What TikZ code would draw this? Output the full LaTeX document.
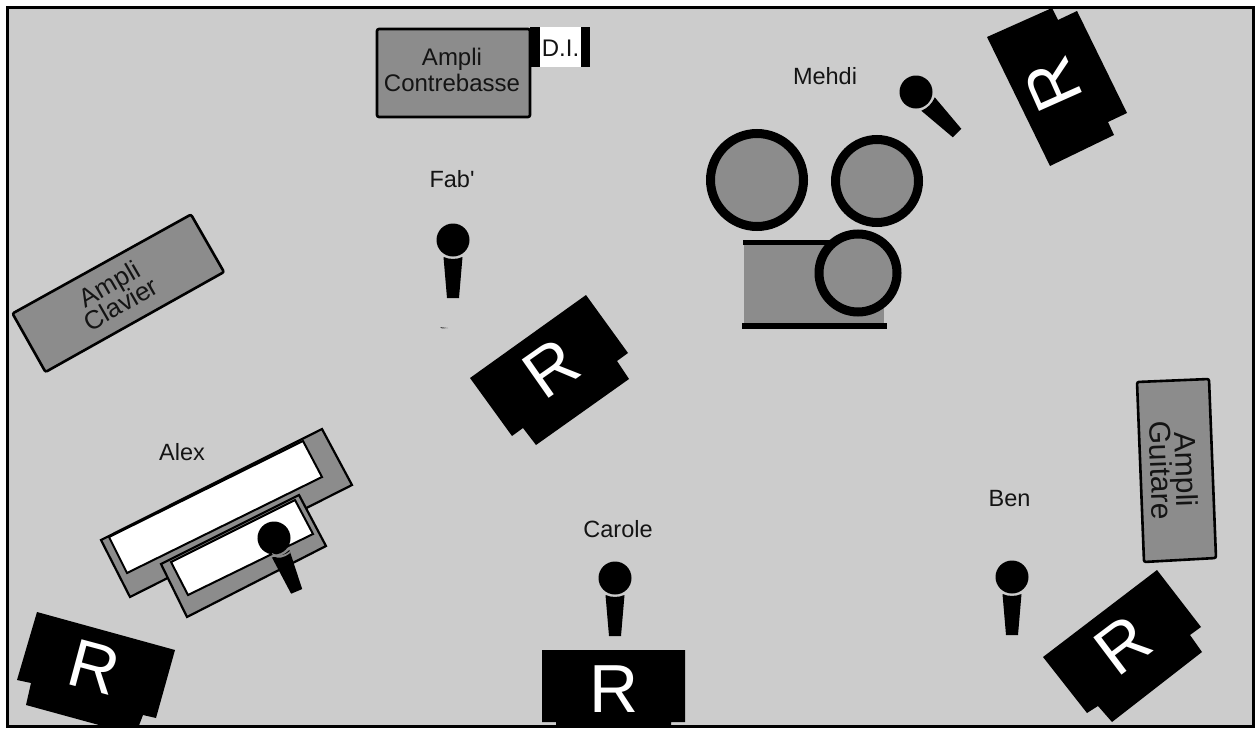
\documentclass[tikz,border=0pt]{standalone}
\usepackage{fontspec}
\setmainfont{Liberation Sans}
\newfontfamily\plainsans{Liberation Sans}
\lineskiplimit=-100pt
\definecolor{stagebg}{HTML}{CCCCCC}
\definecolor{ampfill}{HTML}{8C8C8C}
\definecolor{ink}{HTML}{141414}
\tikzset{
  ampbox/.style={draw=black,fill=ampfill,line width=2.6pt,rounded corners=2pt},
  keyface/.style={draw=black,fill=white,line width=2pt,line join=miter},
  keybase/.style={draw=black,fill=ampfill,line width=2.2pt,line join=miter},
  drum/.style={draw=black,fill=ampfill,line width=9pt},
  monitor/.style={fill=black},
  rletter/.style={text=white,font=\fontsize{68}{68}\selectfont,inner sep=0pt},
  person/.style={text=ink,font=\fontsize{23.5}{26}\selectfont,inner sep=0pt,anchor=base},
  amplabel/.style={text=ink,inner sep=0pt,align=center,anchor=center},
}
\newcommand{\micro}[3]{%
  \begin{scope}[shift={(#1,#2)},rotate=#3]
    \fill[black] (0,0) circle[radius=16.5pt];
    \fill[black] (-9.5,17) .. controls (-4,19.6) and (4,19.6) .. (9.5,17) -- (6,58) -- (-6,58) -- cycle;
  \end{scope}}
\begin{document}
\begin{tikzpicture}[x=1pt,y=-1pt]
\useasboundingbox (0,0) rectangle (1255,728);
\fill[white] (0,0) rectangle (1255,728);
\draw[fill=stagebg,line width=3pt] (7.5,7.5) rectangle (1253.5,726);
\begin{scope}
\clip (7.5,7.5) rectangle (1253.5,725);
% amps
\draw[ampbox] (377,29) rectangle (530,117);
\node[amplabel,font=\fontsize{24}{26}\selectfont] (ac) at (452,70) {Ampli\\Contrebasse};
\fill[black] (530,27) rectangle (590,67);
\fill[white] (540,27) rectangle (581,67);
\node[text=ink,font=\fontsize{24}{26}\selectfont,inner sep=0pt,anchor=base] (di) at (560.5,56) {D.I.};
\draw[ampbox] (191,214.5) -- (224,272) -- (45.5,372) -- (12.5,313.5) -- cycle;
\node[amplabel,rotate=30,font=\fontsize{26}{23}\selectfont] (acl) at (115,294) {Ampli\\Clavier};
\draw[ampbox] (1137,382) -- (1209,379) -- (1216,558) -- (1144,562) -- cycle;
\node[amplabel,rotate=-88,font=\fontsize{30}{25}\selectfont] (ag) at (1174,470) {Ampli\\Guitare};
% drums
\fill[ampfill] (744,242) rectangle (884,326);
\draw[black,line width=5pt] (743,242) -- (830,242);
\draw[black,line width=5.5pt] (742,326) -- (887,326);
\draw[drum] (757,180) circle[radius=46.5pt];
\draw[drum] (877,181) circle[radius=41.5pt];
\draw[drum] (858,273) circle[radius=39pt];
% keyboard
\draw[keybase] (322,429) -- (352,485) -- (130,597) -- (101,540) -- cycle;
\draw[keyface] (303,441) -- (322,477) -- (127,573) -- (109,537) -- cycle;
\draw[keybase] (299,495) -- (326,546) -- (187,617) -- (161,564) -- cycle;
\draw[keyface] (295,500) -- (313,534) -- (188,595) -- (171,562) -- cycle;
% monitors
\fill[monitor] (542,650) -- (685,650) -- (685,722) -- (671,722) -- (671,728) -- (556,728) -- (556,722) -- (542,722) -- cycle;
\node[rletter] (r1) at (614.5,689) {R};
\fill[monitor] (37,612) -- (175,650) -- (156,718) -- (143,715) -- (138,728) -- (110,728) -- (26,705) -- (31,683) -- (17,680) -- cycle;
\node[rletter,rotate=-15] (r2) at (94,667) {R};
\fill[monitor] (987,37) -- (1052,8) -- (1058,20) -- (1077,11) -- (1127,113) -- (1108,122) -- (1114,135) -- (1050,166) -- cycle;
\node[rletter,rotate=114] (r3) at (1053,85) {R};
\fill[monitor] (586,295) -- (628,353) -- (617,361) -- (629,379) -- (536,445) -- (523,428) -- (512,436) -- (470,378) -- cycle;
\node[rletter,rotate=35] (r4) at (551,368) {R};
\fill[monitor] (1157,570) -- (1201,627) -- (1190,635) -- (1202,652) -- (1112,722) -- (1098,706) -- (1087,713) -- (1043,657) -- cycle;
\node[rletter,rotate=37] (r5) at (1123,645) {R};
% microphones
\micro{453}{240}{0}
\micro{615}{578}{0}
\micro{1012}{577}{0}
\micro{916}{92}{45}
\micro{274}{538}{23}
\fill[ampfill] (272,553) .. controls (278,557) and (284,556) .. (290,551) -- (290,553) .. controls (284,558) and (278,559) .. (273,556) -- cycle;
% tiny stray mark
\fill[black!70] (440,327) -- (448,328) -- (442,328.5) -- cycle;
% labels
\node[person] (mehdi) at (825,84) {Mehdi};
\node[person] (fab) at (452,187) {\plainsans Fab'};
\node[person] (alex) at (182,460) {Alex};
\node[person] (carole) at (618,537) {Carole};
\node[person] (ben) at (1009.5,506) {Ben};
\end{scope}
\end{tikzpicture}
\end{document}
